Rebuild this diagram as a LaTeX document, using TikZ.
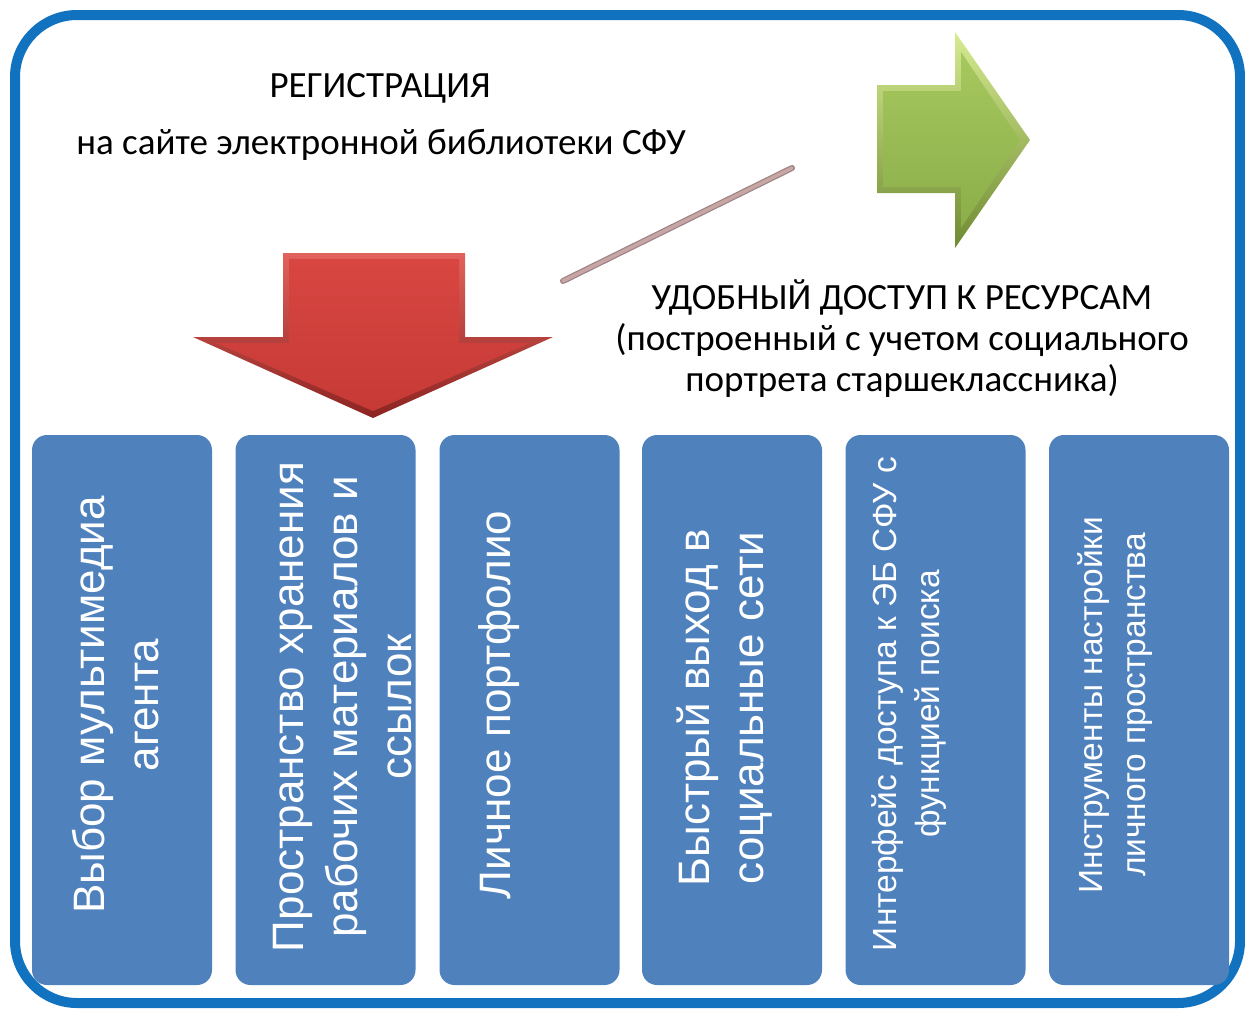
\documentclass[tikz,border=0pt]{standalone}
\usepackage{fontspec}
\setmainfont{Carlito}
\newfontfamily\arialf{Liberation Sans}
\definecolor{frameblue}{HTML}{1172C0}
\definecolor{boxblue}{HTML}{4F81BD}
\definecolor{rodc}{HTML}{C9A6A6}
\definecolor{rodd}{HTML}{9E8484}
\begin{document}
\begin{tikzpicture}[x=1pt,y=-1pt,
  box/.style={fill=boxblue, rounded corners=15pt, minimum width=180pt, minimum height=550pt, inner sep=0pt},
  boxtext/.style={rotate=90, text=white, align=center, font=\arialf\fontsize{44}{54}\selectfont, inner sep=0pt},
  smalltext/.style={boxtext, font=\arialf\fontsize{33.5}{43}\selectfont},
  toptext/.style={font=\fontsize{37}{41}\selectfont, align=center, inner sep=0pt}]
\useasboundingbox (0,0) rectangle (1245,1009);
% frame
\draw[frameblue, line width=10pt, rounded corners=62pt] (15,15) rectangle (1240,1003);
% texts
\node[toptext] (reg) at (380,88) {РЕГИСТРАЦИЯ};
\node[toptext] (site) at (381,145) {на сайте электронной библиотеки СФУ};
\node[toptext] (acc) at (902,339) {УДОБНЫЙ ДОСТУП К РЕСУРСАМ\\(построенный с учетом социального\\портрета старшеклассника)};
% rod
\coordinate (r1) at (563,281);
\coordinate (r2) at (792,168);
\draw[rodd, line width=6pt, line cap=round] (r1) -- (r2);
\draw[rodc, line width=3.5pt, line cap=round] (r1) -- (r2);
% red arrow
\shade[top color={rgb,255:red,226;green,98;blue,92}, bottom color={rgb,255:red,140;green,36;blue,33}]
  (283,253) -- (465,253) -- (465,337) -- (553,337) -- (373,418) -- (193,337) -- (283,337) -- cycle;
\shade[top color={rgb,255:red,216;green,70;blue,65}, bottom color={rgb,255:red,198;green,58;blue,54}]
  (289,259) -- (459,259) -- (459,343) -- (530,343) -- (373,411) -- (216,343) -- (289,343) -- cycle;
% green arrow
\shade[top color={rgb,255:red,215;green,236;blue,145}, bottom color={rgb,255:red,110;green,138;blue,50}]
  (877,85) -- (955,85) -- (955,32) -- (1030,140) -- (955,248) -- (955,193) -- (877,193) -- cycle;
\shade[top color={rgb,255:red,166;green,200;blue,94}, bottom color={rgb,255:red,140;green,174;blue,74}]
  (883,91) -- (961,91) -- (961,52) -- (1020,140) -- (961,228) -- (961,187) -- (883,187) -- cycle;
% boxes
\node[box] (b1) at (122,710) {};
\node[box] (b2) at (325.5,710) {};
\node[box] (b3) at (529.5,710) {};
\node[box] (b4) at (732,710) {};
\node[box] (b5) at (935.5,710) {};
\node[box] (b6) at (1139,710) {};
\node[boxtext] (t1) at (116,705) {Выбор мультимедиа\\агента};
\node[boxtext] (t2) at (343,707) {Пространство хранения\\рабочих материалов и\\ссылок};
\node[boxtext] (t3) at (499,705) {Личное портфолио};
\node[boxtext] (t4) at (725,708) {Быстрый выход в\\социальные сети};
\node[smalltext] (t5) at (909,704) {Интерфейс доступа к ЭБ СФУ с\\функцией поиска};
\node[smalltext] (t6) at (1115,705) {Инструменты настройки\\личного пространства};
\end{tikzpicture}
\end{document}
